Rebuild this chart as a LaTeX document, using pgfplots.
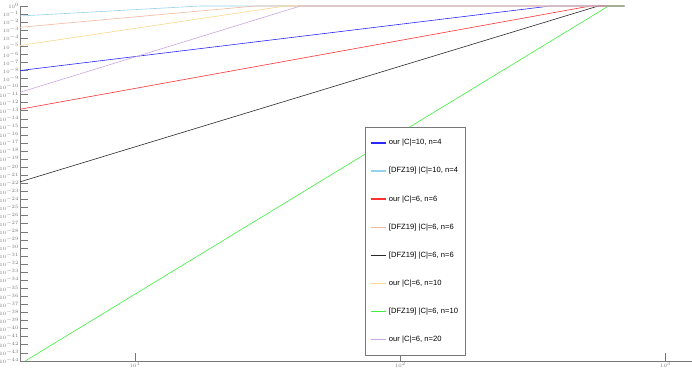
\documentclass[border=0pt]{standalone}
\usepackage{fontspec}
\setmainfont{Liberation Sans}
\usepackage{pgfplots}
\pgfplotsset{compat=1.18}
\definecolor{cblue}{RGB}{40,40,255}
\definecolor{clblue}{RGB}{150,210,235}
\definecolor{cred}{RGB}{255,50,50}
\definecolor{cpeach}{RGB}{240,185,155}
\definecolor{cblack}{RGB}{40,40,40}
\definecolor{cyellow}{RGB}{250,215,140}
\definecolor{cgreen}{RGB}{60,240,60}
\definecolor{clilac}{RGB}{205,165,225}
\definecolor{axgray}{RGB}{120,120,120}
\begin{document}
\begin{tikzpicture}
\begin{axis}[
  scale only axis, width=672pt, height=355pt,
  xmode=log, ymode=log,
  xmin=3.68, xmax=1259, ymin=1e-44, ymax=1,
  axis x line=bottom, axis y line=left,
  axis line style={-, axgray, line width=0.8pt},
  tick style={axgray, line width=0.8pt},
  tick align=inside, major tick length=8pt,
  xminorticks=false, yminorticks=false,
  xtick={10,100,1000},
  ytickten={-44,...,0},
  tick label style={font=\fontsize{2.6}{3}\selectfont, text=axgray, inner sep=0.8pt},
  clip=false,
  legend cell align=left,
  legend style={at={(rel axis cs:0.513,0.659)}, anchor=north west,
    draw=axgray, line width=0.6pt, font=\fontsize{7.6}{8}\selectfont,
    row sep=17.1pt, inner xsep=5pt, inner ysep=10pt},
  legend image code/.code={\draw[#1, line width=1.3pt] (0cm,0cm) -- (0.55cm,0cm);},
  every axis plot/.append style={line width=0.6pt},
]
\addplot[color=cblue] coordinates {(3.68,1e-8) (368,1) (700,1)};
\addlegendentry{our |C|=10, n=4}
\addplot[color=clblue] coordinates {(3.68,5.75e-2) (17.6,1) (700,1)};
\addlegendentry{[DFZ19] |C|=10, n=4}
\addplot[color=cred] coordinates {(3.68,1.6e-13) (521,1) (700,1)};
\addlegendentry{our |C|=6, n=6}
\addplot[color=cpeach] coordinates {(3.68,2.3e-3) (28.4,1) (700,1)};
\addlegendentry{[DFZ19] |C|=6, n=6}
\addplot[color=cblack] coordinates {(3.68,1.6e-22) (558,1) (700,1)};
\addlegendentry{[DFZ19] |C|=6, n=6}
\addplot[color=cyellow] coordinates {(3.68,1.26e-5) (36.8,1) (700,1)};
\addlegendentry{our |C|=6, n=10}
\addplot[color=cgreen] coordinates {(3.85,1e-44) (610,1) (700,1)};
\addlegendentry{[DFZ19] |C|=6, n=10}
\addplot[color=clilac] coordinates {(3.68,2e-11) (42,1) (700,1)};
\addlegendentry{our |C|=6, n=20}
\coordinate (bl) at (rel axis cs:0,0);
\coordinate (tr) at (rel axis cs:1,1);
\end{axis}
\pgfresetboundingbox
\path[use as bounding box] ([shift={(-20pt,-8pt)}]bl) rectangle ([shift={(0pt,6pt)}]tr);
\end{tikzpicture}
\end{document}
